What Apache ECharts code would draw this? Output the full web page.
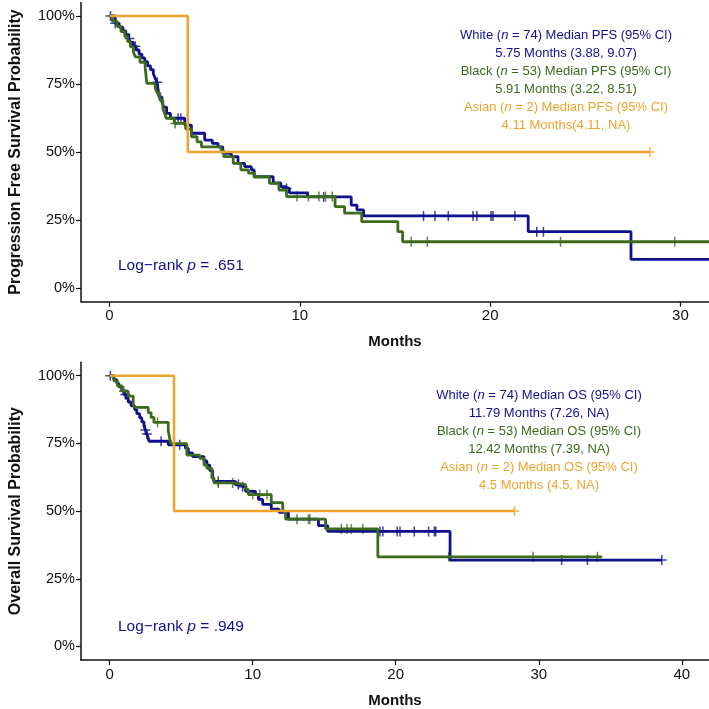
<!DOCTYPE html>
<html>
<head>
<meta charset="utf-8">
<script src="https://cdn.jsdelivr.net/npm/echarts@6.0.0/dist/echarts.min.js"></script>
<style>
  html, body { margin: 0; padding: 0; background: #fff; }
  #chart { width: 709px; height: 709px; }
</style>
</head>
<body>
<div id="chart"></div>
<script>
// PFS, White
const pfsWhiteT = [0, 0.3, 0.5, 0.7, 0.85, 1.0, 1.1, 1.25, 1.4, 1.55, 1.7, 1.85, 2.0, 2.15, 2.3, 2.4, 2.5, 2.55, 2.6, 2.75, 2.85, 3.0, 3.2, 3.95, 4.3, 5.0, 5.4, 5.7, 5.95, 6.4, 6.75, 7.1, 7.45, 7.6, 8.6, 9.0, 9.2, 9.45, 10.4, 12.7, 13.0, 13.35, 22.0, 27.4];
const pfsWhiteS = [100, 97.3, 95.9, 94.5, 93.1, 91.7, 90.3, 88.9, 87.5, 86.0, 84.6, 83.2, 81.7, 80.3, 78.8, 77.1, 75.6, 73.0, 70.3, 68.5, 66.5, 64.2, 62.4, 59.9, 56.9, 54.4, 53.2, 51.9, 49.5, 48.3, 45.8, 44.6, 43.4, 40.9, 38.6, 37.3, 36.6, 35.0, 33.5, 30.5, 28.7, 26.5, 20.7, 10.5];
const pfsWhiteCens = [0.05, 0.3, 1.05, 1.35, 2.5, 3.6, 3.75, 9.3, 11.25, 16.5, 17.1, 17.8, 19.1, 19.3, 20.05, 20.15, 21.3, 22.45, 22.8];
// PFS, Black
const pfsBlackT = [0, 0.15, 0.4, 0.6, 0.8, 0.95, 1.1, 1.25, 1.35, 1.6, 1.87, 1.96, 2.4, 2.5, 2.64, 2.8, 2.9, 2.98, 3.4, 4.0, 4.3, 4.6, 4.83, 5.86, 6.0, 6.5, 6.9, 7.3, 7.6, 8.4, 8.9, 9.3, 11.85, 12.35, 13.25, 15.15, 15.4];
const pfsBlackS = [100, 98.1, 96.2, 94.3, 92.5, 90.6, 88.7, 86.8, 85.0, 83.0, 81.1, 75.2, 73.6, 71.7, 69.1, 66.0, 64.2, 62.4, 60.5, 58.5, 55.6, 53.7, 51.9, 50.5, 48.3, 45.8, 43.4, 42.2, 40.9, 38.5, 36.0, 33.6, 29.9, 27.5, 24.4, 20.7, 17.0];
const pfsBlackCens = [3.45, 9.85, 10.45, 11.0, 11.35, 11.7, 15.85, 16.7, 23.7, 29.7];
// PFS, Asian
const pfsAsianT = [0, 4.11];
const pfsAsianS = [100, 50];
const pfsAsianCens = [28.4];

// OS, White
const osWhiteT = [0, 0.3, 0.5, 0.65, 0.85, 1.0, 1.15, 1.3, 1.5, 1.75, 1.9, 2.1, 2.25, 2.4, 2.5, 2.6, 2.7, 2.75, 4.1, 5.3, 5.5, 5.8, 6.6, 6.8, 7.0, 7.2, 7.3, 8.8, 9.3, 9.5, 10.2, 10.4, 10.7, 11.3, 11.85, 12.5, 14.6, 15.25, 23.8];
const osWhiteS = [100, 98.6, 97.2, 95.9, 94.5, 93.1, 91.7, 90.3, 88.9, 87.5, 86.0, 84.5, 83.0, 81.5, 80.0, 78.5, 77.0, 75.8, 74.5, 73.2, 71.5, 70.1, 68.5, 67.0, 65.0, 63.0, 61.0, 59.8, 59.0, 57.3, 56.1, 54.3, 52.5, 50.7, 49.5, 47.0, 44.6, 42.5, 31.9];
const osWhiteCens = [0.05, 1.1, 2.5, 2.6, 3.6, 4.9, 7.6, 9.0, 9.3, 18.9, 19.1, 20.1, 20.3, 21.3, 22.3, 22.7, 22.8, 31.6, 33.4, 38.6];
// OS, Black
const osBlackT = [0, 0.3, 0.55, 0.88, 1.3, 1.65, 1.75, 2.7, 2.9, 3.1, 4.1, 4.2, 4.3, 5.4, 6.3, 6.6, 6.8, 7.15, 7.3, 8.7, 9.5, 9.7, 11.3, 12.1, 12.3, 15.1, 18.75];
const osBlackS = [100, 98.1, 96.2, 94.3, 92.5, 89.5, 88.3, 86.4, 84.6, 82.8, 79.8, 76.7, 74.9, 70.7, 69.5, 67.0, 65.8, 62.2, 60.4, 59.8, 58.0, 56.1, 53.1, 50.0, 47.0, 43.4, 33.1];
const osBlackCens = [1.0, 3.35, 7.6, 8.6, 10.0, 10.5, 11.0, 13.1, 13.9, 14.0, 16.2, 16.6, 16.9, 17.7, 23.7, 29.6, 34.1];
// OS, Asian
const osAsianT = [0, 4.5];
const osAsianS = [100, 50];
const osAsianCens = [28.3];

const pfsEnd = [31.5, 31.5, 28.4];
const osEnd = [38.6, 34.4, 28.3];

const pfsTicks = [0, 10, 20, 30];
const osTicks = [0, 10, 20, 30, 40];
const yTicks = [0, 25, 50, 75, 100];

const pfsLegend = [
  'White ({i|n} = 74) Median PFS (95% CI)', '5.75 Months (3.88, 9.07)',
  'Black ({i|n} = 53) Median PFS (95% CI)', '5.91 Months (3.22, 8.51)',
  'Asian ({i|n} = 2) Median PFS (95% CI)', '4.11 Months(4.11, NA)'
];
const osLegend = [
  'White ({i|n} = 74) Median OS (95% CI)', '11.79 Months (7.26, NA)',
  'Black ({i|n} = 53) Median OS (95% CI)', '12.42 Months (7.39, NA)',
  'Asian ({i|n} = 2) Median OS (95% CI)', '4.5 Months (4.5, NA)'
];

const colors = ['#10108e', '#3d6b1c', '#eea32c'];
const FONT = '"Liberation Sans", Arial, Helvetica, sans-serif';
const CROSS = 'path://M-1.5,-10H1.5V-1.5H10V1.5H1.5V10H-1.5V1.5H-10V-1.5H-1.5Z';

function survAt(T, S, t) {
  let s = S[0];
  for (let i = 0; i < T.length; i++) {
    if (T[i] <= t) s = S[i];
  }
  return s;
}

function kmSeries(T, S, cens, end, color, gi, width) {
  const pts = T.map((t, i) => [t, S[i]]);
  pts.push([end, S[S.length - 1]]);
  return [
    {
      type: 'line', xAxisIndex: gi, yAxisIndex: gi,
      step: 'end', data: pts, showSymbol: false, silent: true,
      lineStyle: { color: color, width: width }
    },
    {
      type: 'scatter', xAxisIndex: gi, yAxisIndex: gi,
      data: cens.map(t => [t, survAt(T, S, t)]),
      symbol: CROSS, symbolSize: 10, silent: true,
      itemStyle: { color: color }
    }
  ];
}

function xAxis(gi, min, max, ticks) {
  return {
    type: 'value', gridIndex: gi, min: min, max: max,
    name: 'Months', nameLocation: 'middle', nameGap: 33,
    nameTextStyle: { fontFamily: FONT, fontSize: 15, fontWeight: 'bold', color: '#111' },
    axisLine: { onZero: false, lineStyle: { color: '#111', width: 1.5 } },
    axisTick: { customValues: ticks, length: 5, lineStyle: { color: '#111', width: 1.2 } },
    axisLabel: { customValues: ticks, fontFamily: FONT, fontSize: 15, color: '#111', margin: 7 },
    splitLine: { show: false }
  };
}

function yAxis(gi, name) {
  return {
    type: 'value', gridIndex: gi, min: -5, max: 105,
    name: name, nameLocation: 'middle', nameGap: 57,
    nameTextStyle: { fontFamily: FONT, fontSize: 16, fontWeight: 'bold', color: '#111' },
    axisLine: { onZero: false, lineStyle: { color: '#111', width: 1.5 } },
    axisTick: { customValues: yTicks, length: 5, lineStyle: { color: '#111', width: 1.2 } },
    axisLabel: { customValues: yTicks, formatter: '{value}%', fontFamily: FONT, fontSize: 14.5, color: '#111', margin: 6 },
    splitLine: { show: false }
  };
}

function legendTexts(lines, cx, y0) {
  return lines.map((txt, i) => ({
    type: 'text', x: cx, y: y0 + i * 18, silent: true,
    style: {
      text: txt, fill: colors[Math.floor(i / 2)],
      font: '13px ' + FONT, align: 'center', verticalAlign: 'middle',
      rich: { i: { fontStyle: 'italic', fontSize: 13, fontFamily: FONT, fill: colors[Math.floor(i / 2)] } }
    }
  }));
}

function logRank(y, p) {
  return {
    type: 'text', x: 118, y: y, silent: true,
    style: {
      text: 'Log\u2212rank {i|p} = ' + p, fill: colors[0],
      font: '15.5px ' + FONT, align: 'left', verticalAlign: 'middle',
      rich: { i: { fontStyle: 'italic', fontSize: 15.5, fontFamily: FONT, fill: colors[0] } }
    }
  };
}

const series = [].concat(
  kmSeries(pfsWhiteT, pfsWhiteS, pfsWhiteCens, pfsEnd[0], colors[0], 0, 2.8),
  kmSeries(pfsBlackT, pfsBlackS, pfsBlackCens, pfsEnd[1], colors[1], 0, 2.8),
  kmSeries(pfsAsianT, pfsAsianS, pfsAsianCens, pfsEnd[2], colors[2], 0, 2.5),
  kmSeries(osWhiteT, osWhiteS, osWhiteCens, osEnd[0], colors[0], 1, 2.8),
  kmSeries(osBlackT, osBlackS, osBlackCens, osEnd[1], colors[1], 1, 2.8),
  kmSeries(osAsianT, osAsianS, osAsianCens, osEnd[2], colors[2], 1, 2.5)
);

const chart = echarts.init(document.getElementById('chart'));
chart.setOption({
  animation: false,
  backgroundColor: '#fff',
  textStyle: { fontFamily: FONT },
  grid: [
    { left: 75, right: 0, top: 2.4, height: 299.2 },
    { left: 75, right: 0, top: 362.2, height: 302.5 }
  ],
  xAxis: [xAxis(0, -1.5, 31.5, pfsTicks), xAxis(1, -2, 41.9, osTicks)],
  yAxis: [yAxis(0, 'Progression Free Survival Probability'), yAxis(1, 'Overall Survival Probability')],
  series: series,
  graphic: [].concat(
    legendTexts(pfsLegend, 566, 35),
    legendTexts(osLegend, 539, 395),
    [logRank(266, '.651'), logRank(627, '.949')]
  )
});
</script>
</body>
</html>
